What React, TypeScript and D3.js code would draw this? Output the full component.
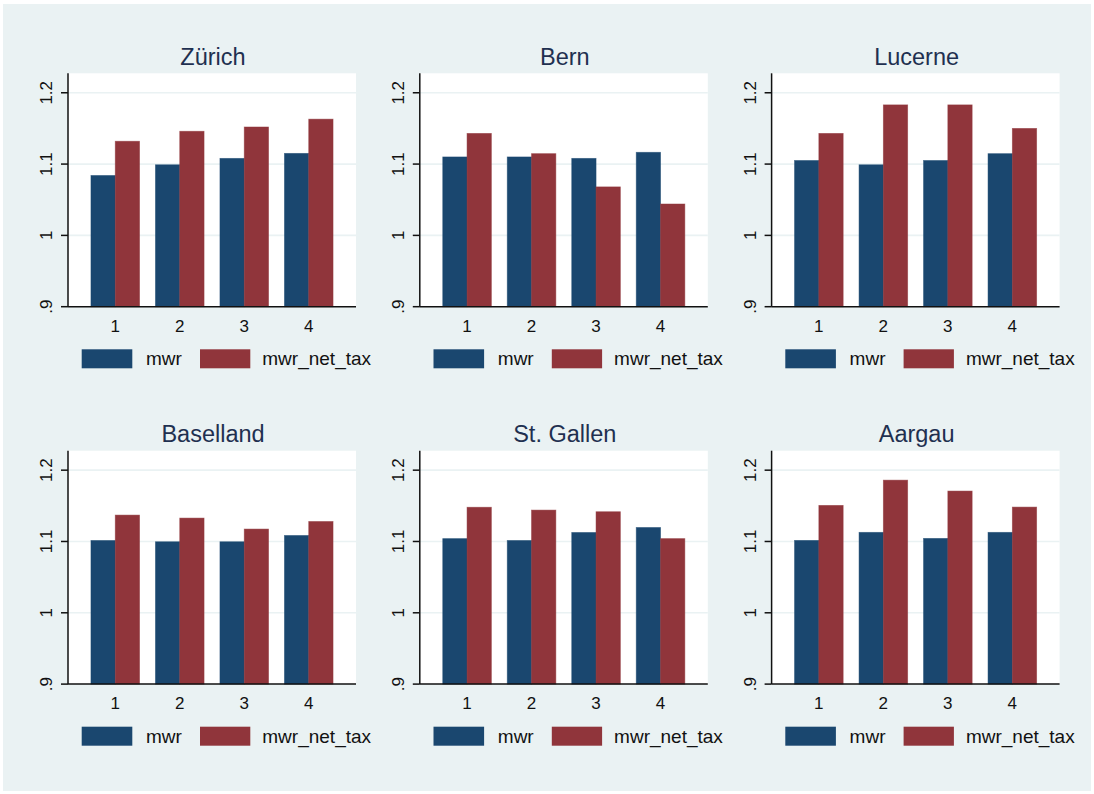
import React from "react";
import * as d3 from "d3";

// Panels (cantons) and the four groups on the x axis
const regions = ["Zürich", "Bern", "Lucerne", "Baselland", "St. Gallen", "Aargau"];
const categories = ["1", "2", "3", "4"];

// Series values, one row per canton, one entry per group
const mwr = [
  [1.084, 1.099, 1.108, 1.115],
  [1.110, 1.110, 1.108, 1.1165],
  [1.105, 1.099, 1.105, 1.1146],
  [1.1014, 1.0996, 1.0996, 1.1084],
  [1.104, 1.1014, 1.1126, 1.1196],
  [1.1015, 1.1128, 1.1043, 1.1128],
];
const mwrNetTax = [
  [1.132, 1.146, 1.152, 1.163],
  [1.143, 1.1146, 1.068, 1.044],
  [1.143, 1.183, 1.183, 1.150],
  [1.137, 1.1328, 1.1174, 1.128],
  [1.148, 1.144, 1.1417, 1.104],
  [1.1506, 1.186, 1.1707, 1.1482],
];

const seriesNames = ["mwr", "mwr_net_tax"];
const seriesColors = ["#1a476f", "#90353b"];

const yTicks = [0.9, 1, 1.1, 1.2];
const yTickLabels = [".9", "1", "1.1", "1.2"];
const yDomain = [0.9, 1.2273];

const W = 1094;
const H = 794;
const plotW = 288;
const plotH = 233.4;
const colPitch = 351.8;
const rowPitch = 377.4;
const left0 = 68;
const top0 = 73.3;
const font = "Arial, 'Liberation Sans', Helvetica, sans-serif";

function Panel({ idx }: { idx: number }) {
  const col = idx % 3;
  const row = Math.floor(idx / 3);
  const px = left0 + col * colPitch;
  const py = top0 + row * rowPitch;

  const x = d3
    .scaleBand<string>()
    .domain(categories)
    .range([0, plotW])
    .paddingInner(0.2465)
    .paddingOuter(0.356);
  const xs = d3.scaleBand<string>().domain(seriesNames).range([0, x.bandwidth()]).padding(0);
  const y = d3.scaleLinear().domain(yDomain).range([plotH, 0]);

  const values = [mwr[idx], mwrNetTax[idx]];

  return (
    <g transform={`translate(${px},${py})`}>
      <rect x={0} y={0} width={plotW} height={plotH} fill="#ffffff" />
      {yTicks.slice(1).map((t) => (
        <line key={t} x1={0} x2={plotW} y1={y(t)} y2={y(t)} stroke="#eaf2f3" strokeWidth={1.6} />
      ))}
      {categories.map((c, ci) =>
        seriesNames.map((s, si) => {
          const v = values[si][ci];
          return (
            <rect
              key={`${c}-${s}`}
              x={(x(c) as number) + (xs(s) as number)}
              y={y(v)}
              width={xs.bandwidth()}
              height={plotH - y(v)}
              fill={seriesColors[si]}
              stroke={seriesColors[si]}
              strokeOpacity={0.6}
              strokeWidth={0.8}
            />
          );
        })
      )}
      {/* axes */}
      <line x1={0} x2={0} y1={0} y2={plotH} stroke="#111" strokeWidth={1.5} />
      <line x1={0} x2={plotW} y1={plotH} y2={plotH} stroke="#111" strokeWidth={1.5} />
      {yTicks.map((t, i) => (
        <g key={t}>
          <line x1={-7} x2={0} y1={y(t)} y2={y(t)} stroke="#111" strokeWidth={1.5} />
          <text
            transform={`translate(${-16},${y(t)}) rotate(-90)`}
            textAnchor="middle"
            fontSize={17}
            fontFamily={font}
            fill="#111"
          >
            {yTickLabels[i]}
          </text>
        </g>
      ))}
      {categories.map((c) => (
        <text
          key={c}
          x={(x(c) as number) + x.bandwidth() / 2}
          y={plotH + 25}
          textAnchor="middle"
          fontSize={17}
          fontFamily={font}
          fill="#111"
        >
          {c}
        </text>
      ))}
      <text
        x={plotW / 2 + 1}
        y={-8.3}
        textAnchor="middle"
        fontSize={23.5}
        fontFamily={font}
        fill="#1f3050"
      >
        {regions[idx]}
      </text>
      {/* legend */}
      <g transform={`translate(0,${plotH + 42.6})`}>
        <rect x={13.7} y={0} width={50.6} height={19} fill={seriesColors[0]} />
        <text x={78} y={16} fontSize={19} fontFamily={font} fill="#111">
          {seriesNames[0]}
        </text>
        <rect x={132} y={0} width={50.3} height={19} fill={seriesColors[1]} />
        <text x={194.3} y={16} fontSize={19} fontFamily={font} fill="#111">
          {seriesNames[1]}
        </text>
      </g>
    </g>
  );
}

export default function App() {
  return (
    <div style={{ position: "absolute", left: 0, top: 0 }}>
      <svg width={W} height={H} viewBox={`0 0 ${W} ${H}`} style={{ display: "block" }}>
        <rect x={0} y={0} width={W} height={H} fill="#ffffff" />
        <rect x={3} y={4} width={W - 6} height={H - 7} fill="#eaf2f3" />
        {regions.map((r, i) => (
          <Panel key={r} idx={i} />
        ))}
      </svg>
    </div>
  );
}
